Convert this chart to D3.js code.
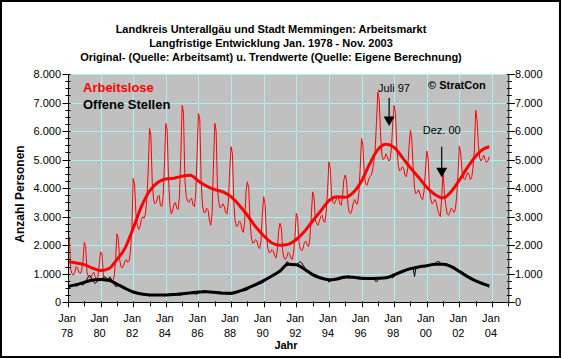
<!DOCTYPE html>
<html><head><meta charset="utf-8">
<script src="https://cdn.jsdelivr.net/npm/d3@7/dist/d3.min.js"></script>
<style>
body{margin:0;background:#fff}
svg{display:block}
text{font-family:"Liberation Sans",Arial,sans-serif}
</style>
</head><body>
<svg id="chart" width="561" height="358"></svg>
<script>
// Monthly values Jan 1978 - Nov 2003 (one year per row)
const arbeitslose = [
 2400,2250,1150,1000,950,1050,1250,1200,1050,1000,1100,1450,
 2100,1950,1050,900,850,900,1000,1050,900,800,900,1350,
 1770,1700,950,800,720,750,850,900,780,750,900,1500,
 2400,2250,1500,1250,1200,1300,1450,1500,1400,1450,1800,2600,
 4340,4150,3100,2700,2550,2650,2900,3000,2950,3100,3600,4600,
 6090,5850,4200,3600,3450,3500,3700,3750,3400,3350,3700,4900,
 6270,6000,4300,3400,3100,3200,3450,3500,3300,3250,3700,5100,
 6900,6650,4300,3700,3550,3500,3600,3650,3400,3350,3800,5200,
 6620,6400,4200,3400,3150,3150,3300,3250,2900,2700,3100,4700,
 6270,6000,3950,3500,3300,3350,3450,3350,3150,3100,3500,4600,
 5450,5200,3500,2850,2650,2700,2850,2800,2550,2450,2800,3900,
 4220,4000,2800,2250,2070,2100,2200,2150,1950,1880,2150,3100,
 3700,3450,2400,1900,1750,1750,1850,1800,1650,1550,1800,2500,
 2770,2600,1800,1550,1500,1600,1750,1700,1550,1500,1750,2300,
 3120,2950,2100,1850,1800,1900,2100,2150,2000,1950,2250,3000,
 3870,3700,2900,2750,2700,2850,3000,3050,2850,2800,3150,3900,
 4920,4700,3700,3500,3450,3550,3700,3650,3450,3400,3700,4300,
 4460,4250,3400,3150,3100,3250,3500,3600,3450,3450,3800,4700,
 5740,5500,4500,4150,4100,4250,4400,4450,4600,4900,5300,6300,
 7370,7100,5900,5150,5000,5050,5200,5100,4950,5000,5400,6300,
 6900,6600,5400,4800,4600,4650,4750,4700,4450,4400,4700,5500,
 6030,5700,4700,4000,3800,3850,3950,3800,3650,3600,3900,4600,
 5300,5050,3950,3600,3450,3500,3600,3500,3250,3100,3000,3700,
 4600,3800,3400,3100,3050,3150,3300,3250,3150,3250,3700,4500,
 5470,5200,4600,4350,4300,4400,4550,4500,4300,4350,4700,5300,
 6730,6400,5500,5050,4950,5050,5150,5000,4900,4950,5100
];
const offeneStellen = [
 520,530,560,600,620,590,560,580,620,640,620,600,
 640,700,820,900,950,880,780,700,660,700,780,760,
 760,820,880,900,860,820,840,860,780,700,620,560,
 560,580,620,600,560,520,480,450,420,400,380,360,
 330,330,340,330,310,300,290,280,270,260,250,240,
 230,240,260,270,270,260,260,250,250,240,240,230,
 240,250,280,290,290,280,270,270,270,260,250,250,
 270,280,310,330,330,320,310,300,300,300,290,290,
 320,340,370,390,420,390,370,360,360,350,340,330,
 340,350,370,370,360,340,330,320,310,300,290,280,
 280,300,340,360,370,370,370,380,390,400,410,420,
 440,470,510,530,540,560,590,610,630,650,660,680,
 720,760,800,830,860,880,910,940,960,990,1010,1040,
 1060,1100,1180,1260,1330,1420,1400,1360,1330,1310,1300,1290,
 1300,1340,1400,1420,1380,1300,1230,1170,1120,1080,1040,1000,
 930,950,960,940,900,870,850,840,830,810,790,770,
 710,730,780,800,820,810,800,810,820,830,830,840,
 860,880,940,920,900,890,880,870,870,860,850,840,
 820,830,860,870,860,850,840,830,830,820,760,710,
 790,830,860,870,860,850,850,860,870,880,870,860,
 900,940,1000,1040,1060,1070,1080,1100,1120,1130,1140,1140,
 1150,1170,1200,900,1200,1230,1230,1240,1240,1250,1250,1250,
 1260,1270,1290,1300,1320,1340,1360,1400,1430,1420,1380,1340,
 1320,1320,1340,1340,1320,1300,1280,1260,1240,1210,1180,1150,
 1110,1090,1070,1040,1000,970,940,910,880,850,820,800,
 770,750,730,700,680,660,640,610,590,560,520
];
// Trend values (month index since Jan 1978)
const trendMonths = [0,6,12,18,24,30,36,42,48,54,60,66,72,78,84,90,96,102,108,114,120,126,132,138,144,150,156,162,168,174,180,186,192,198,204,210,216,222,228,234,240,246,252,258,264,270,276,282,288,294,300,306,310];
const trendArbeitslose = [1420,1380,1320,1200,1110,1180,1500,1900,2600,3350,3900,4200,4320,4350,4420,4450,4250,4070,3950,3870,3700,3400,3050,2650,2330,2080,2000,2030,2200,2480,2850,3200,3560,3700,3680,3850,4250,4850,5350,5540,5430,5080,4710,4380,4030,3780,3660,3880,4280,4730,5120,5380,5450];
const trendOffene = [550,620,700,780,800,770,640,490,360,290,260,255,260,275,300,330,360,370,350,320,320,390,500,620,760,920,1100,1330,1320,1160,970,850,790,820,890,880,840,830,840,860,960,1080,1180,1240,1280,1330,1330,1250,1080,900,750,640,570];

const yTicks = [0,1000,2000,3000,4000,5000,6000,7000,8000];
const yTickLabels = ["0","1.000","2.000","3.000","4.000","5.000","6.000","7.000","8.000"];
const xTickMonths = [0,24,48,72,96,120,144,168,192,216,240,264,288,312];
const xTickLabels = ["78","80","82","84","86","88","90","92","94","96","98","00","02","04"];
const titleLines = [
 "Landkreis Unterallgäu und Stadt Memmingen: Arbeitsmarkt",
 "Langfristige Entwicklung Jan. 1978 - Nov. 2003",
 "Original- (Quelle: Arbeitsamt) u. Trendwerte (Quelle: Eigene Berechnung)"
];
const seriesNames = ["Arbeitslose","Offene Stellen"];
const annotations = [
 {label:"Juli 97", month:236.3, top:7160, tip:6180, dx:-11, anchor:"start", gap:6},
 {label:"Dez. 00", month:275, top:5450, tip:4380, dx:0, anchor:"middle", gap:13}
];

const svg = d3.select("#chart");
const L=68, R=508.3, T=74, B=302.3;
const x = d3.scaleLinear().domain([0,324]).range([L,R]);
const y = d3.scaleLinear().domain([0,8000]).range([B,T]);
const grid = "#a8f2f2";

svg.append("rect").attr("x",1).attr("y",1).attr("width",559).attr("height",356)
  .attr("fill","#fff").attr("stroke","#000").attr("stroke-width",2);

svg.append("rect").attr("x",L).attr("y",T).attr("width",R-L).attr("height",B-T).attr("fill","#c0c0c0");

// gridlines
svg.append("g").selectAll("line").data(yTicks.filter(d=>d>0)).join("line")
  .attr("x1",L).attr("x2",R).attr("y1",d=>Math.round(y(d))+0.5).attr("y2",d=>Math.round(y(d))+0.5)
  .attr("stroke",grid).attr("stroke-width",1);
svg.append("g").selectAll("line").data(xTickMonths.filter(d=>d>0)).join("line")
  .attr("x1",d=>Math.round(x(d))+0.5).attr("x2",d=>Math.round(x(d))+0.5).attr("y1",T).attr("y2",B)
  .attr("stroke",grid).attr("stroke-width",1);

svg.append("clipPath").attr("id","pc").append("rect")
  .attr("x",L).attr("y",T-2).attr("width",R-L).attr("height",B-T+2);
const plot = svg.append("g").attr("clip-path","url(#pc)");

const lineM = d3.line().x((d,i)=>x(i)).y(d=>y(d));
const lineT = d3.line().x((d,i)=>x(trendMonths[i])).y(d=>y(d)).curve(d3.curveMonotoneX);

plot.append("path").datum(arbeitslose).attr("d",lineM).attr("fill","none").attr("stroke","#ff0000").attr("stroke-width",1);
plot.append("path").datum(offeneStellen).attr("d",lineM).attr("fill","none").attr("stroke","#000").attr("stroke-width",1);
plot.append("path").datum(trendArbeitslose).attr("d",lineT).attr("fill","none").attr("stroke","#ff0000").attr("stroke-width",3);
plot.append("path").datum(trendOffene).attr("d",lineT).attr("fill","none").attr("stroke","#000").attr("stroke-width",3);

// axes
const ax = svg.append("g").attr("stroke","#000").attr("stroke-width",1);
ax.append("line").attr("x1",L+0.5).attr("x2",L+0.5).attr("y1",T).attr("y2",B+0.5);
ax.append("line").attr("x1",R+0.5).attr("x2",R+0.5).attr("y1",T).attr("y2",B+0.5);
ax.append("line").attr("x1",L).attr("x2",R+1).attr("y1",Math.round(B)+0.5).attr("y2",Math.round(B)+0.5);
const minorY = d3.range(0,8001,250);
minorY.forEach(v=>{
  const yy = Math.round(y(v))+0.5;
  const major = v%1000===0;
  ax.append("line").attr("x1",L+0.5-(major?6:3)).attr("x2",L+0.5+2).attr("y1",yy).attr("y2",yy);
  ax.append("line").attr("x1",R+0.5-2).attr("x2",R+0.5+(major?6:3)).attr("y1",yy).attr("y2",yy);
});
d3.range(0,325,12).forEach(m=>{
  const xx = Math.round(x(m))+0.5;
  ax.append("line").attr("x1",xx).attr("x2",xx).attr("y1",B-1).attr("y2",B+(m%24===0?5:4));
});

// tick labels
const tf = "11px";
svg.append("g").selectAll("text").data(yTicks).join("text")
  .attr("x",61).attr("y",d=>y(d)+4).attr("text-anchor","end").attr("font-size",tf).text((d,i)=>yTickLabels[i]);
svg.append("g").selectAll("text").data(yTicks).join("text")
  .attr("x",515).attr("y",d=>y(d)+4).attr("text-anchor","start").attr("font-size",tf).text((d,i)=>yTickLabels[i]);
const xl = svg.append("g").selectAll("g").data(xTickMonths).join("g");
xl.append("text").attr("x",d=>x(d)-1).attr("y",322).attr("text-anchor","middle").attr("font-size",tf).text("Jan");
xl.append("text").attr("x",d=>x(d)-1).attr("y",336.5).attr("text-anchor","middle").attr("font-size",tf).text((d,i)=>xTickLabels[i]);

// titles
svg.append("g").selectAll("text").data(titleLines).join("text")
  .attr("x",271).attr("y",(d,i)=>32.5+i*14).attr("text-anchor","middle")
  .attr("font-size","11px").attr("font-weight","bold").text(d=>d);
svg.append("text").attr("x",286).attr("y",349).attr("text-anchor","middle")
  .attr("font-size","11px").attr("font-weight","bold").text("Jahr");
svg.append("text").attr("transform","translate(24,194) rotate(-90)").attr("text-anchor","middle")
  .attr("font-size","12px").attr("font-weight","bold").text("Anzahl Personen");

// legend
svg.append("text").attr("x",83).attr("y",91.7).attr("font-size","13px").attr("font-weight","bold").attr("fill","#ff0000").text(seriesNames[0]);
svg.append("text").attr("x",83).attr("y",108.7).attr("font-size","13px").attr("font-weight","bold").attr("fill","#000").text(seriesNames[1]);
svg.append("text").attr("x",428).attr("y",89).attr("font-size","11px").attr("font-weight","bold").text("© StratCon");

// annotations
annotations.forEach(a=>{
  const ax0 = x(a.month);
  const yTop = y(a.top), yTip = y(a.tip);
  svg.append("text").attr("x",ax0+a.dx).attr("y",yTop-a.gap).attr("text-anchor",a.anchor)
    .attr("font-size","11px").text(a.label);
  svg.append("line").attr("x1",ax0).attr("x2",ax0).attr("y1",yTop).attr("y2",yTip-6).attr("stroke","#000").attr("stroke-width",1.2);
  svg.append("path").attr("d",`M${ax0-5.5},${yTip-9.5}L${ax0+5.5},${yTip-9.5}L${ax0},${yTip}Z`).attr("fill","#000");
});
</script>
</body></html>
